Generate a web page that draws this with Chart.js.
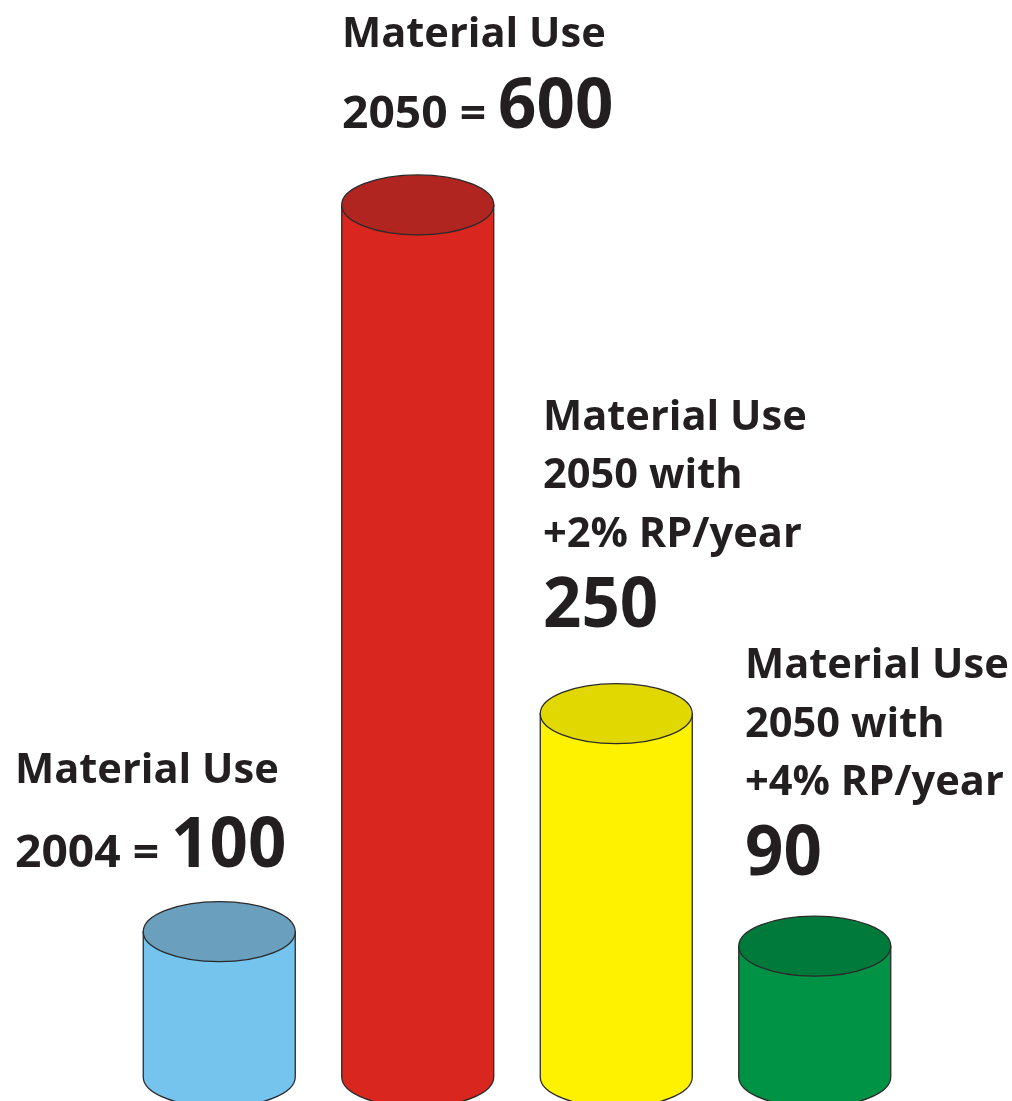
<!DOCTYPE html>
<html><head><meta charset="utf-8">
<script src="https://cdn.jsdelivr.net/npm/chart.js@4"></script>
<style>html,body{margin:0;padding:0;background:#fff;overflow:hidden}</style>
</head><body>
<canvas id="c" width="1012" height="1101"></canvas>
<script>
// ---- data ----
const categories = ['2004', '2050', '2050 +2% RP/year', '2050 +4% RP/year'];
const materialUse = [100, 600, 250, 90];
const headLines = [
  ['Material Use'],
  ['Material Use'],
  ['Material Use', '2050 with', '+2% RP/year'],
  ['Material Use', '2050 with', '+4% RP/year']
];
const valuePrefix = ['2004 = ', '2050 = ', '', ''];
const valueText = ['100', '600', '250', '90'];
const sideColors = ['#74C4EE', '#D9261E', '#FFF200', '#009245'];
const topColors = ['#6A9FBD', '#B02520', '#E0D800', '#007A3A'];

// ---- layout (not data) ----
const labelLayout = [
  { x: 15,  baselines: [783, 867] },
  { x: 342, baselines: [47, 128] },
  { x: 543, baselines: [430, 488, 547, 627] },
  { x: 745, baselines: [678, 737, 795, 875] }
];
const TEXT = '#231F20';
const SMALL = { font: 'bold 42px "Open Sans"', sx: 0.99 };
const PREFIX = { font: 'bold 44px "Open Sans"', sx: 1.05 };
const BIG = { font: 'bold 70px "Open Sans"', sx: 0.96 };

function drawText(ctx, txt, x, y, st) {
  ctx.save();
  ctx.font = st.font;
  ctx.translate(x, y);
  ctx.scale(st.sx, 1);
  ctx.fillText(txt, 0, 0);
  const w = ctx.measureText(txt).width * st.sx;
  ctx.restore();
  return w;
}

const cylinderPlugin = {
  id: 'cylinders',
  afterDatasetsDraw(chart) {
    const ctx = chart.ctx;
    const meta = chart.getDatasetMeta(0);
    meta.data.forEach((el, i) => {
      const p = el.getProps(['x', 'y', 'base', 'width'], true);
      const rx = p.width / 2, ry = 30;
      ctx.save();
      ctx.lineWidth = 1.3;
      ctx.strokeStyle = '#2a2a2a';
      ctx.beginPath();
      ctx.moveTo(p.x - rx, p.y);
      ctx.lineTo(p.x - rx, p.base);
      ctx.ellipse(p.x, p.base, rx, ry, 0, Math.PI, 0, true);
      ctx.lineTo(p.x + rx, p.y);
      ctx.closePath();
      ctx.fillStyle = sideColors[i];
      ctx.fill();
      ctx.stroke();
      ctx.beginPath();
      ctx.ellipse(p.x, p.y, rx, ry, 0, 0, Math.PI * 2);
      ctx.fillStyle = topColors[i];
      ctx.fill();
      ctx.stroke();
      ctx.restore();
    });
    ctx.save();
    ctx.fillStyle = TEXT;
    ctx.textBaseline = 'alphabetic';
    ctx.textAlign = 'left';
    headLines.forEach((lines, i) => {
      const L = labelLayout[i];
      lines.forEach((ln, k) => drawText(ctx, ln, L.x, L.baselines[k], SMALL));
      const last = L.baselines[L.baselines.length - 1];
      let x = L.x;
      if (valuePrefix[i]) {
        x += drawText(ctx, valuePrefix[i], x, last, PREFIX);
      }
      drawText(ctx, valueText[i], x, last, BIG);
    });
    ctx.restore();
  }
};

new Chart(document.getElementById('c'), {
  type: 'bar',
  data: {
    labels: categories,
    datasets: [{
      label: 'Material Use',
      data: materialUse,
      backgroundColor: 'rgba(0,0,0,0)',
      borderWidth: 0,
      barThickness: 152
    }]
  },
  options: {
    responsive: false,
    animation: false,
    layout: { padding: { left: 120, right: 98, top: 0, bottom: 24 } },
    plugins: { legend: { display: false }, tooltip: { enabled: false } },
    scales: {
      x: { display: false },
      y: { display: false, min: 0, max: 741 }
    }
  },
  plugins: [cylinderPlugin]
});
</script>
</body></html>
